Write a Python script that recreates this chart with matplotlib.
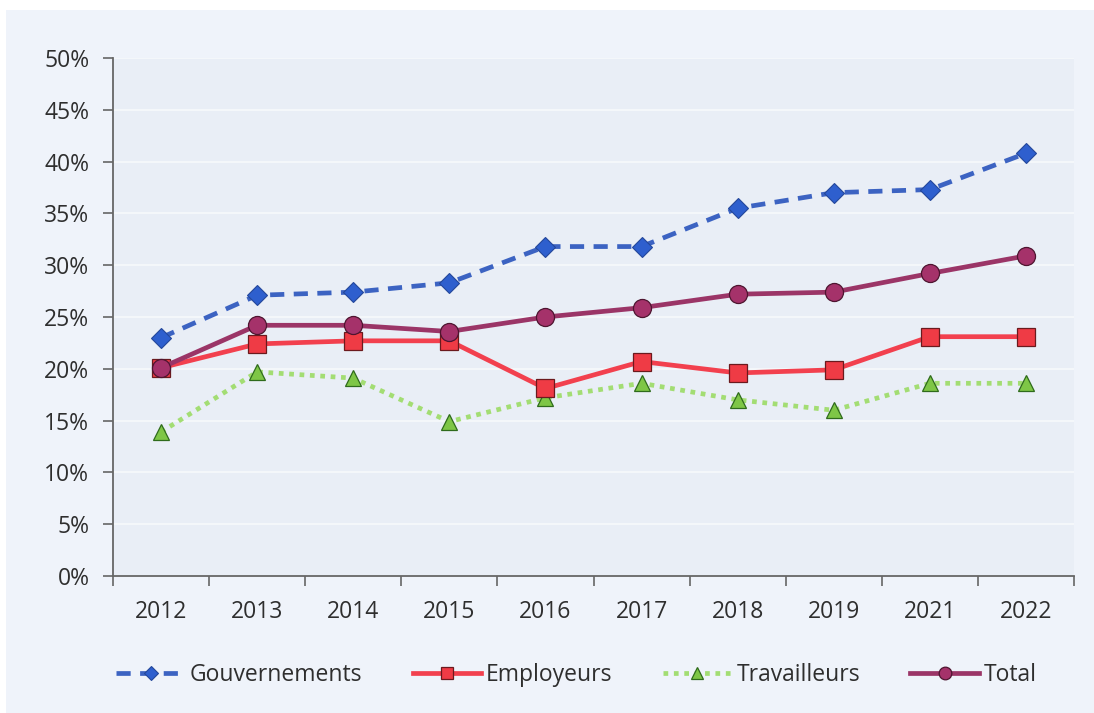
import matplotlib.pyplot as plt
from matplotlib.patches import Rectangle
from matplotlib.ticker import FuncFormatter

plt.rcParams['font.family'] = ['Open Sans', 'DejaVu Sans']

years = ['2012', '2013', '2014', '2015', '2016', '2017', '2018', '2019', '2021', '2022']
gouvernements = [23.0, 27.1, 27.4, 28.3, 31.8, 31.8, 35.5, 37.0, 37.3, 40.8]
employeurs = [20.1, 22.4, 22.7, 22.7, 18.1, 20.7, 19.6, 19.9, 23.1, 23.1]
travailleurs = [13.9, 19.7, 19.1, 14.9, 17.2, 18.6, 17.0, 16.0, 18.6, 18.6]
total = [20.1, 24.2, 24.2, 23.6, 25.0, 25.9, 27.2, 27.4, 29.2, 30.9]

fig = plt.figure(figsize=(10.94, 7.13), dpi=100)
fig.patch.set_facecolor('white')
fig.patches.append(Rectangle((6 / 1094, 0), 1, 1 - 10 / 713, transform=fig.transFigure,
                             facecolor='#eff3fa', edgecolor='none', zorder=-10))

ax = fig.add_axes([113 / 1094, 1 - 576 / 713, (1074 - 113) / 1094, (576 - 58) / 713])
ax.set_facecolor('#e9eef6')

x = range(len(years))
ax.plot(x, gouvernements, color='#3c63c2', lw=3.4, ls=(0, (3, 2)), marker='D', ms=10,
        mfc='#2e5fce', mec='#24479a', mew=0.8, label='Gouvernements', zorder=5)
ax.plot(x, employeurs, color='#f2404e', lw=3.4, marker='s', ms=13,
        mfc='#ef3b45', mec='#6b1a1e', mew=0.9, label='Employeurs', zorder=4)
ax.plot(x, travailleurs, color='#a3dd73', lw=3.4, ls=(0, (1, 1.2)), marker='^', ms=12,
        mfc='#7ec646', mec='#2f6b1c', mew=0.9, label='Travailleurs', zorder=3)
ax.plot(x, total, color='#9b3567', lw=3.4, marker='o', ms=13,
        mfc='#a5326a', mec='#4e1530', mew=0.9, label='Total', zorder=4)

ax.set_xlim(-0.5, len(years) - 0.5)
ax.set_ylim(0, 50)
ax.set_yticks(range(0, 51, 5))
ax.yaxis.set_major_formatter(FuncFormatter(lambda v, p: f'{v:.0f}%'))
ax.set_xticks(x)
ax.set_xticklabels(years)
ax.set_xticks([i - 0.5 for i in range(len(years) + 1)], minor=True)
ax.tick_params(axis='x', which='major', length=0, pad=17, labelsize=16.5, labelcolor='#2e2e2e')
ax.tick_params(axis='x', which='minor', length=7, width=1.2, color='#666666', direction='out')
ax.tick_params(axis='y', length=7, width=1.2, color='#666666', pad=10, labelsize=16.5,
               labelcolor='#2e2e2e')

ax.grid(axis='y', color='#f7f9fc', lw=1.2, zorder=0)
ax.set_axisbelow(True)
for side in ['top', 'right']:
    ax.spines[side].set_visible(False)
for side in ['left', 'bottom']:
    ax.spines[side].set_color('#666666')
    ax.spines[side].set_linewidth(1.3)

fig.legend(loc='center', bbox_to_anchor=(0.527, 1 - 675 / 713), ncol=4, frameon=False,
           fontsize=16.5, handlelength=3.0, columnspacing=2.2, handletextpad=0.2,
           markerscale=0.7, labelcolor='#2e2e2e')

fig.savefig('out.png', dpi=100)
